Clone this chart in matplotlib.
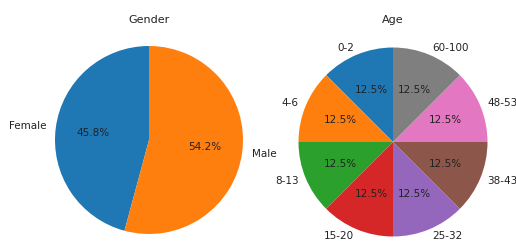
import matplotlib
matplotlib.use("Agg")
import matplotlib.pyplot as plt

gender_labels = ["Female", "Male"]
gender_values = [45.8, 54.2]

age_labels = ["0-2", "4-6", "8-13", "15-20", "25-32", "38-43", "48-53", "60-100"]
age_values = [12.5, 12.5, 12.5, 12.5, 12.5, 12.5, 12.5, 12.5]

W, H = 516, 244
fig = plt.figure(figsize=(W / 100, H / 100), dpi=100)
fs = 7.5

def add_pie(cx, cy, r, values, labels, title, ld=1.1):
    # cx, cy in pixels from top-left; r radius in pixels
    half = r * 1.25
    ax = fig.add_axes([(cx - half) / W, (H - cy - half) / H, 2 * half / W, 2 * half / H])
    ax.pie(values, labels=labels, autopct="%1.1f%%", startangle=90, labeldistance=ld,
           textprops={"fontsize": fs, "color": "#222222"})
    ax.set_xlim(-1.25, 1.25)
    ax.set_ylim(-1.25, 1.25)
    ax.set_aspect("equal")
    ax.axis("off")
    fig.text(cx / W, 1 - 20 / H, title, ha="center", va="center", fontsize=fs + 0.5, color="#222222")
    return ax

add_pie(149, 140, 94, gender_values, gender_labels, "Gender")
add_pie(393, 142, 94.5, age_values, age_labels, "Age", ld=1.08)

fig.savefig("out.png", dpi=100)
